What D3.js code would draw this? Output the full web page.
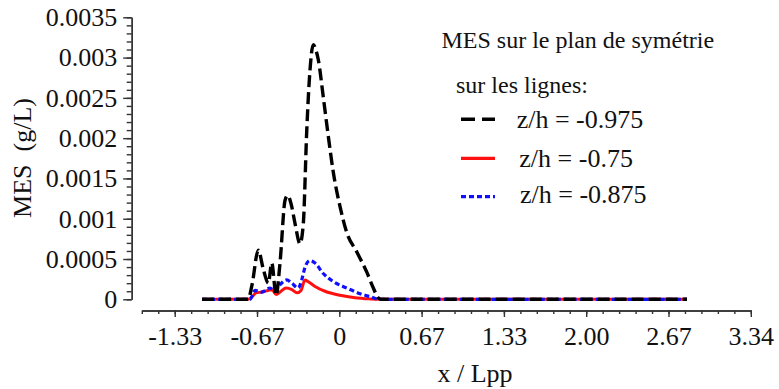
<!DOCTYPE html>
<html>
<head>
<meta charset="utf-8">
<script src="https://cdn.jsdelivr.net/npm/d3@7"></script>
<style>
  html, body { margin: 0; padding: 0; background: #fff; }
  svg { display: block; }
  text { font-family: "Liberation Serif", "DejaVu Serif", serif; fill: #111; }
</style>
</head>
<body>
<svg id="chart" width="779" height="389"></svg>
<script>
// ---- data ----
const xTickValues = [-1.335, -0.6675, 0, 0.6675, 1.335, 2.0025, 2.67, 3.3375];
const xTickLabels = ["-1.33", "-0.67", "0", "0.67", "1.33", "2.00", "2.67", "3.34"];
const yTickValues = [0, 0.0005, 0.001, 0.0015, 0.002, 0.0025, 0.003, 0.0035];
const yTickLabels = ["0", "0.0005", "0.001", "0.0015", "0.002", "0.0025", "0.003", "0.0035"];

const seriesNames = ["z/h = -0.975", "z/h = -0.75", "z/h = -0.875"];

const blackX = [-1.113, -0.740, -0.708, -0.657, -0.619, -0.576, -0.548, -0.513, -0.481, -0.440, -0.418, -0.392, -0.359, -0.319, -0.292, -0.264, -0.238, -0.211, -0.189, -0.170, -0.130, -0.089, -0.049, 0.006, 0.060, 0.141, 0.222, 0.276, 0.314, 0.338, 2.82];
const blackY = [0, 0, 0.00018, 0.00061, 0.00039, 0.00020, 0.00045, 0.00005, 0.00045, 0.00123, 0.00129, 0.00119, 0.00094, 0.00069, 0.00094, 0.00210, 0.00284, 0.00316, 0.00309, 0.00297, 0.00251, 0.00202, 0.00158, 0.00115, 0.00083, 0.00059, 0.00034, 0.00014, 0.00002, 0, 0];

const redX = [-1.113, -0.740, -0.708, -0.676, -0.627, -0.578, -0.546, -0.513, -0.473, -0.432, -0.384, -0.343, -0.311, -0.278, -0.254, -0.197, -0.116, 0.006, 0.127, 0.249, 0.314, 2.82];
const redY = [0, 0, 0.00003, 0.00008, 0.00009, 0.00011, 0.00012, 0.00006, 0.00010, 0.00014, 0.00012, 0.00008, 0.00011, 0.00024, 0.00022, 0.00016, 0.00010, 0.00005, 0.00002, 0.000005, 0, 0];

const blueX = [-1.113, -0.724, -0.684, -0.627, -0.562, -0.522, -0.481, -0.427, -0.386, -0.333, -0.305, -0.278, -0.238, -0.197, -0.130, -0.049, 0.060, 0.168, 0.276, 0.316, 2.82];
const blueY = [0, 0, 0.00011, 0.00009, 0.00014, 0.00010, 0.00018, 0.00024, 0.00020, 0.00014, 0.00024, 0.00040, 0.00048, 0.00045, 0.00032, 0.00022, 0.00014, 0.00007, 0.00002, 0, 0];

// ---- layout ----
const svg = d3.select("#chart");
const x = d3.scaleLinear().domain([-1.602, 3.3375]).range([141.8, 750.8]);
const y = d3.scaleLinear().domain([0, 0.0035]).range([299.3, 17.3]);

const FS = 26;

// x axis (major + minor)
const xMinor = d3.range(-1.602, 3.34, 0.1335);
const gxMinor = svg.append("g").attr("transform", "translate(0,310.5)")
  .call(d3.axisBottom(x).tickValues(xMinor).tickFormat("").tickSize(3.5).tickSizeOuter(0));
const gx = svg.append("g").attr("transform", "translate(0,310.5)")
  .call(d3.axisBottom(x).tickValues(xTickValues).tickFormat((d, i) => xTickLabels[i]).tickSize(6.5).tickSizeOuter(0).tickPadding(10));
gx.selectAll("text").style("font-size", FS + "px").attr("font-family", "Liberation Serif");

// y axis (major + minor)
const yMinor = d3.range(0, 0.00351, 0.0001);
svg.append("g").attr("transform", "translate(131.7,0)")
  .call(d3.axisLeft(y).tickValues(yMinor).tickFormat("").tickSize(5).tickSizeOuter(0));
const gy = svg.append("g").attr("transform", "translate(131.7,0)")
  .call(d3.axisLeft(y).tickValues(yTickValues).tickFormat((d, i) => yTickLabels[i]).tickSize(8.5).tickSizeOuter(0).tickPadding(6));
gy.selectAll("text").style("font-size", FS + "px").attr("font-family", "Liberation Serif");

svg.selectAll(".domain, .tick line").attr("stroke", "#333").attr("stroke-width", 1.4);

// axis titles
svg.append("text").attr("x", 475).attr("y", 382).attr("text-anchor", "middle")
  .style("font-size", FS + "px").text("x / Lpp");
svg.append("text").attr("transform", "translate(31,158) rotate(-90)").attr("text-anchor", "middle")
  .style("font-size", FS + "px").attr("xml:space", "preserve").text("MES\u00a0\u00a0(g/L)");

// lines
const line = d3.line().x(d => x(d[0])).y(d => y(d[1])).curve(d3.curveMonotoneX);
const zip = (a, b) => a.map((v, i) => [v, b[i]]);

svg.append("path").datum(zip(redX, redY)).attr("d", line)
  .attr("fill", "none").attr("stroke", "#ff1010").attr("stroke-width", 3);
svg.append("path").datum(zip(blueX, blueY)).attr("d", line)
  .attr("fill", "none").attr("stroke", "#1010ff").attr("stroke-width", 3.2).attr("stroke-dasharray", "5,3");
svg.append("path").datum(zip(blackX, blackY)).attr("d", line)
  .attr("fill", "none").attr("stroke", "#000").attr("stroke-width", 3.4).attr("stroke-dasharray", "12,5");

// legend
svg.append("text").attr("x", 441.5).attr("y", 48.3).style("font-size", "24px").text("MES sur le plan de symétrie");
svg.append("text").attr("x", 456).attr("y", 92.7).style("font-size", "24px").text("sur les lignes:");

const legendStyles = [
  { color: "#000", dash: "14,7", width: 3.4 },
  { color: "#ff1010", dash: null, width: 3.2 },
  { color: "#1010ff", dash: "5,3", width: 3.2 }
];
const legendTextX = [516.7, 519.3, 520];
const legendBase = [128.3, 166.7, 203.3];
const legendLineY = [119.3, 158.3, 196.7];
seriesNames.forEach((name, i) => {
  const s = legendStyles[i];
  const l = svg.append("line").attr("x1", 461).attr("x2", 495)
    .attr("y1", legendLineY[i]).attr("y2", legendLineY[i])
    .attr("stroke", s.color).attr("stroke-width", s.width);
  if (s.dash) l.attr("stroke-dasharray", s.dash);
  svg.append("text").attr("x", legendTextX[i]).attr("y", legendBase[i])
    .style("font-size", FS + "px").text(name);
});
</script>
</body>
</html>
